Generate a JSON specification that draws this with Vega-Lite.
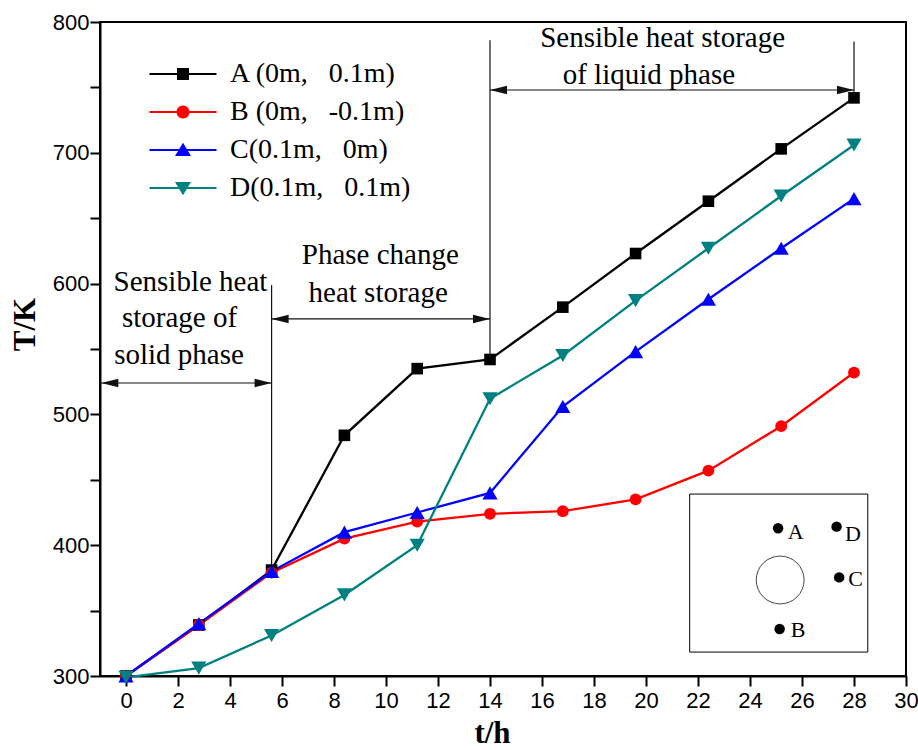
{
  "$schema": "https://vega.github.io/schema/vega-lite/v6.json",
  "width": 806,
  "height": 654,
  "autosize": {"type": "none"},
  "padding": {"left": 100, "top": 22, "right": 12, "bottom": 74},
  "background": "white",
  "config": {
    "view": {"stroke": "black", "strokeWidth": 2},
    "axis": {"grid": false}
  },
  "datasets": {
    "series": [
      {"t": 0, "T": 300, "s": "A"}, {"t": 2.8, "T": 339, "s": "A"}, {"t": 5.6, "T": 381, "s": "A"}, {"t": 8.4, "T": 484, "s": "A"}, {"t": 11.2, "T": 535, "s": "A"}, {"t": 14, "T": 542, "s": "A"}, {"t": 16.8, "T": 582, "s": "A"}, {"t": 19.6, "T": 623, "s": "A"}, {"t": 22.4, "T": 663, "s": "A"}, {"t": 25.2, "T": 703, "s": "A"}, {"t": 28, "T": 742, "s": "A"},
      {"t": 0, "T": 300, "s": "B"}, {"t": 2.8, "T": 339, "s": "B"}, {"t": 5.6, "T": 379, "s": "B"}, {"t": 8.4, "T": 405, "s": "B"}, {"t": 11.2, "T": 418, "s": "B"}, {"t": 14, "T": 424, "s": "B"}, {"t": 16.8, "T": 426, "s": "B"}, {"t": 19.6, "T": 435, "s": "B"}, {"t": 22.4, "T": 457, "s": "B"}, {"t": 25.2, "T": 491, "s": "B"}, {"t": 28, "T": 532, "s": "B"},
      {"t": 0, "T": 300, "s": "C"}, {"t": 2.8, "T": 340, "s": "C"}, {"t": 5.6, "T": 380, "s": "C"}, {"t": 8.4, "T": 410, "s": "C"}, {"t": 11.2, "T": 425, "s": "C"}, {"t": 14, "T": 440, "s": "C"}, {"t": 16.8, "T": 506, "s": "C"}, {"t": 19.6, "T": 548, "s": "C"}, {"t": 22.4, "T": 588, "s": "C"}, {"t": 25.2, "T": 627, "s": "C"}, {"t": 28, "T": 665, "s": "C"},
      {"t": 0, "T": 299, "s": "D"}, {"t": 2.8, "T": 306, "s": "D"}, {"t": 5.6, "T": 331, "s": "D"}, {"t": 8.4, "T": 362, "s": "D"}, {"t": 11.2, "T": 400, "s": "D"}, {"t": 14, "T": 512, "s": "D"}, {"t": 16.8, "T": 545, "s": "D"}, {"t": 19.6, "T": 587, "s": "D"}, {"t": 22.4, "T": 627, "s": "D"}, {"t": 25.2, "T": 667, "s": "D"}, {"t": 28, "T": 706, "s": "D"}
    ],
    "rules": [
      {"t": 5.6, "T": 381, "t2": 5.6, "T2": 599},
      {"t": 14, "T": 543, "t2": 14, "T2": 786},
      {"t": 28, "T": 743, "t2": 28, "T2": 785},
      {"t": -1, "T": 524, "t2": 5.6, "T2": 524},
      {"t": 5.6, "T": 573, "t2": 14, "T2": 573},
      {"t": 14, "T": 748, "t2": 28, "T2": 748}
    ],
    "arrowR": [
      {"t": 5.6, "T": 524}, {"t": 14, "T": 573}, {"t": 28, "T": 748}
    ],
    "arrowL": [
      {"t": -0.95, "T": 524}, {"t": 5.6, "T": 573}, {"t": 14, "T": 748}
    ],
    "notes": [
      {"t": 2.48, "T": 601.5, "label": "Sensible heat"},
      {"t": 2.06, "T": 573.7, "label": "storage of"},
      {"t": 2.04, "T": 545.4, "label": "solid phase"},
      {"t": 9.78, "T": 621.9, "label": "Phase change"},
      {"t": 9.7, "T": 592.6, "label": "heat storage"},
      {"t": 20.64, "T": 787.8, "label": "Sensible heat storage"},
      {"t": 20.11, "T": 759.5, "label": "of liquid phase"}
    ],
    "box": [
      {"t": 21.68, "T": 318.3, "t2": 28.53, "T2": 439.1}
    ],
    "hole": [
      {"t": 25.16, "T": 373.4}
    ],
    "dots": [
      {"t": 25.08, "T": 412.9, "label": "A", "lt": 25.45, "lT": 410.3},
      {"t": 25.14, "T": 335.9, "label": "B", "lt": 25.57, "lT": 335.2},
      {"t": 27.43, "T": 375.4, "label": "C", "lt": 27.78, "lT": 374.2},
      {"t": 27.33, "T": 414.2, "label": "D", "lt": 27.65, "lT": 408.3}
    ]
  },
  "layer": [
    {
      "data": {"name": "series"},
      "mark": {"type": "line", "strokeWidth": 2.3},
      "encoding": {
        "x": {
          "field": "t", "type": "quantitative",
          "scale": {"domain": [-1, 30], "nice": false, "zero": false},
          "axis": {
            "title": "t/h",
            "values": [0,1,2,3,4,5,6,7,8,9,10,11,12,13,14,15,16,17,18,19,20,21,22,23,24,25,26,27,28,29,30],
            "labelExpr": "datum.value % 2 === 0 ? datum.label : ''",
            "labelOverlap": false,
            "labelBound": false,
            "labelFlush": false,
            "tickSize": 10,
            "labelPadding": 4,
            "tickWidth": 2,
            "tickColor": "black",
            "domainColor": "black",
            "domainWidth": 2,
            "labelFont": "Liberation Sans",
            "labelFontSize": 22,
            "labelColor": "black",
            "titleFont": "Liberation Serif",
            "titleFontSize": 31,
            "titleFontWeight": "bold",
            "titleColor": "black",
            "titleX": 392,
            "titleY": 66,
            "titleBaseline": "alphabetic",
            "encode": {"ticks": {"update": {"y2": {"signal": "datum.value % 2 === 0 ? -11 : -5"}}}}
          }
        },
        "y": {
          "field": "T", "type": "quantitative",
          "scale": {"domain": [300, 800], "nice": false, "zero": false},
          "axis": {
            "title": "T/K",
            "values": [300,350,400,450,500,550,600,650,700,750,800],
            "labelExpr": "datum.value % 100 === 0 ? datum.label : ''",
            "labelOverlap": false,
            "labelBound": false,
            "labelFlush": false,
            "tickSize": 10,
            "labelPadding": 1,
            "tickWidth": 2,
            "tickColor": "black",
            "domainColor": "black",
            "domainWidth": 2,
            "labelFont": "Liberation Sans",
            "labelFontSize": 22,
            "labelColor": "black",
            "titleFont": "Liberation Serif",
            "titleFontSize": 31,
            "titleFontWeight": "bold",
            "titleColor": "black",
            "titleX": -75,
            "titleY": 302,
            "titleBaseline": "middle",
            "encode": {"ticks": {"update": {"x2": {"signal": "datum.value % 100 === 0 ? 11 : 5"}}}}
          }
        },
        "color": {
          "field": "s", "type": "nominal",
          "scale": {"domain": ["A", "B", "C", "D"], "range": ["#000000", "#ff0000", "#0000ff", "#008080"]},
          "legend": {
            "title": null,
            "orient": "none",
            "legendX": 69,
            "legendY": 38,
            "padding": 0,
            "symbolSize": 400,
            "symbolStrokeWidth": 0,
            "labelOffset": 33,
            "rowPadding": 10,
            "labelFont": "Liberation Serif",
            "labelFontSize": 28,
            "labelColor": "black",
            "labelLimit": 400,
            "labelExpr": "datum.value === 'A' ? 'A (0m,\u00a0\u00a0\u00a00.1m)' : datum.value === 'B' ? 'B (0m,\u00a0\u00a0\u00a0-0.1m)' : datum.value === 'C' ? 'C(0.1m,\u00a0\u00a0\u00a00m)' : 'D(0.1m,\u00a0\u00a0\u00a00.1m)'",
            "encode": {
              "symbols": {
                "update": {
                  "shape": {"signal": "datum.value === 'A' ? 'M-3.35,-0.11L3.35,-0.11L3.35,0.11L-3.35,0.11ZM-0.6,-0.6L0.6,-0.6L0.6,0.6L-0.6,0.6Z' : datum.value === 'B' ? 'M-3.35,-0.11L3.35,-0.11L3.35,0.11L-3.35,0.11ZM-0.65,0A0.65,0.65,0,1,1,0.65,0A0.65,0.65,0,1,1,-0.65,0Z' : datum.value === 'C' ? 'M-3.35,-0.11L3.35,-0.11L3.35,0.11L-3.35,0.11ZM0,-0.72L0.8,0.6L-0.8,0.6Z' : 'M-3.35,-0.11L3.35,-0.11L3.35,0.11L-3.35,0.11ZM0,0.72L-0.8,-0.6L0.8,-0.6Z'"},
                  "size": {"value": 400},
                  "fill": {"signal": "scale('color', datum.value)"},
                  "strokeWidth": {"value": 0},
                  "opacity": {"value": 1},
                  "fillOpacity": {"value": 1}
                }
              }
            }
          }
        }
      }
    },
    {
      "data": {"name": "series"},
      "transform": [{"filter": "datum.s === 'A'"}],
      "mark": {"type": "point", "filled": true, "opacity": 1, "shape": "square", "size": 135, "color": "#000000"},
      "encoding": {
        "x": {"field": "t", "type": "quantitative"},
        "y": {"field": "T", "type": "quantitative"}
      }
    },
    {
      "data": {"name": "series"},
      "transform": [{"filter": "datum.s === 'B'"}],
      "mark": {"type": "point", "filled": true, "opacity": 1, "shape": "circle", "size": 140, "color": "#ff0000"},
      "encoding": {
        "x": {"field": "t", "type": "quantitative"},
        "y": {"field": "T", "type": "quantitative"}
      }
    },
    {
      "data": {"name": "series"},
      "transform": [{"filter": "datum.s === 'C'"}],
      "mark": {"type": "point", "filled": true, "opacity": 1, "shape": "triangle-up", "size": 230, "color": "#0000ff"},
      "encoding": {
        "x": {"field": "t", "type": "quantitative"},
        "y": {"field": "T", "type": "quantitative"}
      }
    },
    {
      "data": {"name": "series"},
      "transform": [{"filter": "datum.s === 'D'"}],
      "mark": {"type": "point", "filled": true, "opacity": 1, "shape": "triangle-down", "size": 230, "color": "#008080"},
      "encoding": {
        "x": {"field": "t", "type": "quantitative"},
        "y": {"field": "T", "type": "quantitative"}
      }
    },
    {
      "data": {"name": "rules"},
      "mark": {"type": "rule", "color": "#111111", "strokeWidth": 1.2},
      "encoding": {
        "x": {"field": "t", "type": "quantitative"},
        "y": {"field": "T", "type": "quantitative"},
        "x2": {"field": "t2"},
        "y2": {"field": "T2"}
      }
    },
    {
      "data": {"name": "arrowR"},
      "mark": {"type": "point", "filled": true, "color": "#111111", "opacity": 1, "size": 1156, "shape": "M0,0L-1,-0.25L-1,0.25Z"},
      "encoding": {
        "x": {"field": "t", "type": "quantitative"},
        "y": {"field": "T", "type": "quantitative"}
      }
    },
    {
      "data": {"name": "arrowL"},
      "mark": {"type": "point", "filled": true, "color": "#111111", "opacity": 1, "size": 1156, "shape": "M0,0L1,-0.25L1,0.25Z"},
      "encoding": {
        "x": {"field": "t", "type": "quantitative"},
        "y": {"field": "T", "type": "quantitative"}
      }
    },
    {
      "data": {"name": "notes"},
      "mark": {"type": "text", "font": "Liberation Serif", "fontSize": 29, "color": "black", "align": "center", "baseline": "middle"},
      "encoding": {
        "x": {"field": "t", "type": "quantitative"},
        "y": {"field": "T", "type": "quantitative"},
        "text": {"field": "label"}
      }
    },
    {
      "data": {"name": "box"},
      "mark": {"type": "rect", "fill": null, "fillOpacity": 0, "stroke": "black", "strokeWidth": 1},
      "encoding": {
        "x": {"field": "t", "type": "quantitative"},
        "x2": {"field": "t2"},
        "y": {"field": "T", "type": "quantitative"},
        "y2": {"field": "T2"}
      }
    },
    {
      "data": {"name": "hole"},
      "mark": {"type": "point", "shape": "circle", "filled": false, "size": 2290, "stroke": "#444444", "strokeWidth": 1, "opacity": 1},
      "encoding": {
        "x": {"field": "t", "type": "quantitative"},
        "y": {"field": "T", "type": "quantitative"}
      }
    },
    {
      "data": {"name": "dots"},
      "mark": {"type": "point", "shape": "circle", "filled": true, "size": 110, "color": "black", "opacity": 1},
      "encoding": {
        "x": {"field": "t", "type": "quantitative"},
        "y": {"field": "T", "type": "quantitative"}
      }
    },
    {
      "data": {"name": "dots"},
      "mark": {"type": "text", "font": "Liberation Serif", "fontSize": 22, "color": "black", "align": "left", "baseline": "middle"},
      "encoding": {
        "x": {"field": "lt", "type": "quantitative"},
        "y": {"field": "lT", "type": "quantitative"},
        "text": {"field": "label"}
      }
    }
  ]
}
